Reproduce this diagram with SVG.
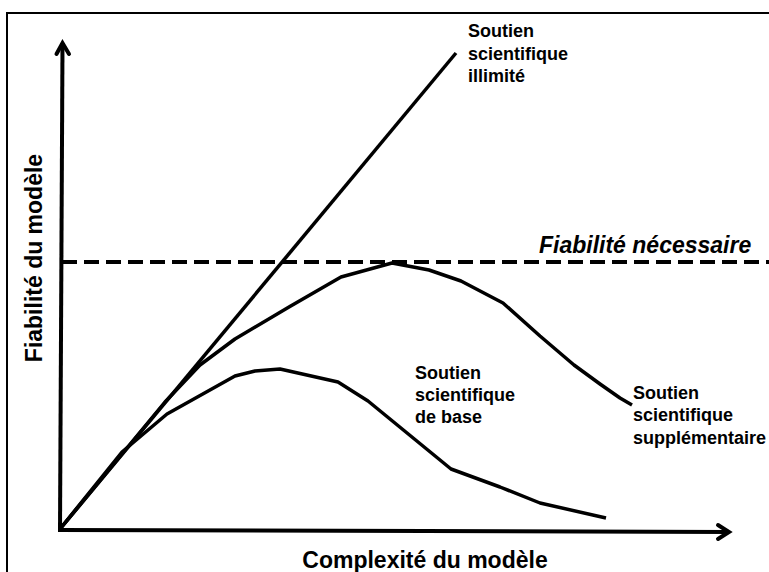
<svg xmlns="http://www.w3.org/2000/svg" width="769" height="572" viewBox="0 0 769 572">
  <defs>
    <style>
      .bg { fill: #ffffff; }
      .frame { fill: none; stroke: #000; stroke-width: 2; }
      .axis { fill: none; stroke: #000; stroke-width: 4; stroke-linecap: square; }
      .head { fill: none; stroke: #000; stroke-width: 4; stroke-linejoin: miter; stroke-linecap: round; }
      .curve { fill: none; stroke: #000; stroke-width: 3.5; stroke-linejoin: round; stroke-linecap: butt; }
      .dash { fill: none; stroke: #000; stroke-width: 4; stroke-dasharray: 15 7; }
      .lbl { font-family: "Liberation Sans", Arial, sans-serif; font-weight: bold; fill: #000; }
      .small { font-size: 18px; }
      .big { font-size: 23px; }
    </style>
  </defs>
  <rect class="bg" x="0" y="0" width="769" height="572"/>
  <path class="frame" d="M7,572 V13 H769"/>

  <g id="connectors">
    <g id="y-axis">
      <line class="axis" x1="60" y1="530" x2="62.5" y2="45"/>
      <polyline class="head" points="56.5,54 62.5,43 69,54"/>
    </g>
    <g id="x-axis">
      <line class="axis" x1="60" y1="530" x2="727" y2="532"/>
      <polyline class="head" points="718,525 729,532 718,539"/>
    </g>
    <g id="required-line">
      <line class="dash" x1="62" y1="262" x2="769" y2="262"/>
    </g>
    <g id="unlimited-line">
      <polyline class="curve" points="60,529 456,53"/>
    </g>
    <g id="supplementary-curve">
      <polyline class="curve" points="60,529 165,402 200,365 235,339 289,307 341,277 392,263 429,270 461,281 503,303 540,336 574,365 600,384 620,398 632,405"/>
    </g>
    <g id="basic-curve">
      <polyline class="curve" points="60,529 122,452 167,414 235,376 255,371 280,369 338,382 368,401 451,469 500,487 540,503 606,518"/>
    </g>
  </g>

  <g id="label-unlimited">
    <text class="lbl small" x="468" y="37">Soutien</text>
    <text class="lbl small" x="468" y="60">scientifique</text>
    <text class="lbl small" x="468" y="82">illimité</text>
  </g>
  <g id="label-basic">
    <text class="lbl small" x="415" y="379">Soutien</text>
    <text class="lbl small" x="415" y="401">scientifique</text>
    <text class="lbl small" x="415" y="423">de base</text>
  </g>
  <g id="label-supplementary">
    <text class="lbl small" x="633" y="399">Soutien</text>
    <text class="lbl small" x="633" y="421">scientifique</text>
    <text class="lbl small" x="633" y="444">supplémentaire</text>
  </g>
  <g id="label-required">
    <text class="lbl big" x="539" y="253" font-style="italic">Fiabilité nécessaire</text>
  </g>
  <g id="label-y">
    <text class="lbl big" transform="translate(42,258) rotate(-90)" text-anchor="middle">Fiabilité du modèle</text>
  </g>
  <g id="label-x">
    <text class="lbl big" x="425" y="568" text-anchor="middle">Complexité du modèle</text>
  </g>
</svg>
